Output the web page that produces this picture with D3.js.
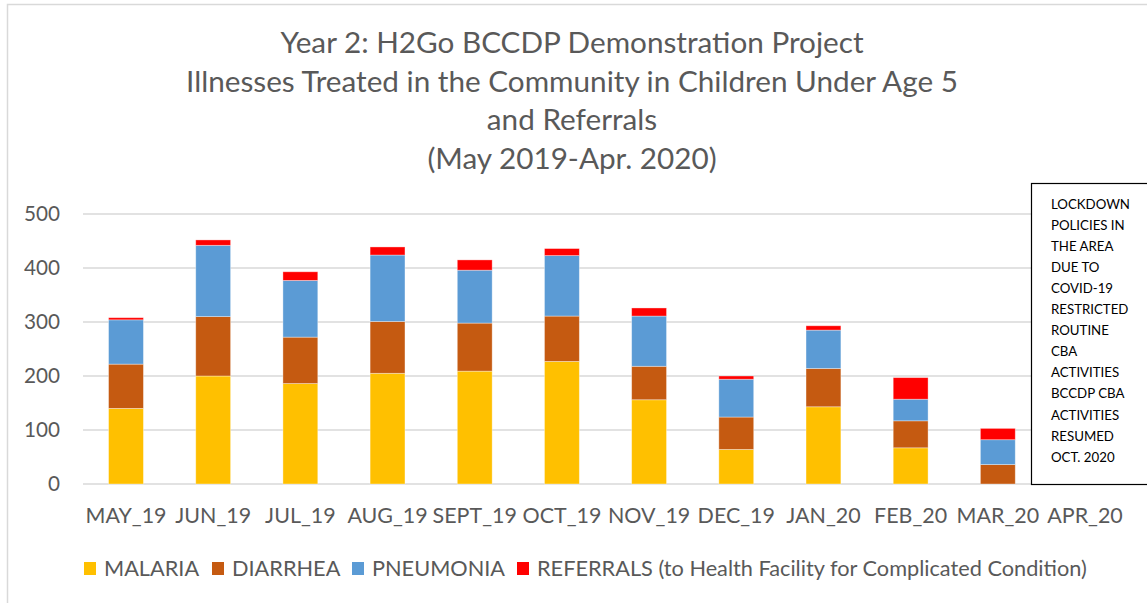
<!DOCTYPE html>
<html><head><meta charset="utf-8">
<script src="https://cdn.jsdelivr.net/npm/d3@7"></script>
<style>body{margin:0;background:#fff}svg{display:block}text{font-family:Lato,"Open Sans",sans-serif}</style>
</head><body>
<svg id="c" width="1147" height="603"></svg>
<script>
const months = ["MAY_19","JUN_19","JUL_19","AUG_19","SEPT_19","OCT_19","NOV_19","DEC_19","JAN_20","FEB_20","MAR_20","APR_20"];
const malaria   = [140,200,186,205,209,227,156,64,143,67,0,0];
const diarrhea  = [82,110,86,96,89,84,62,60,71,50,36,0];
const pneumonia = [82,132,105,123,98,112,93,70,71,40,46,0];
const referrals = [4,10,16,15,19,13,15,6,8,40,21,0];
const seriesNames = ["MALARIA","DIARRHEA","PNEUMONIA","REFERRALS (to Health Facility for Complicated Condition)"];
const seriesColors = ["#FFC000","#C55A11","#5B9BD5","#FF0000"];
const yTicks = [0,100,200,300,400,500];
const titleLines = ["Year 2: H2Go BCCDP Demonstration Project","Illnesses Treated in the Community in Children Under Age 5","and Referrals","(May 2019-Apr. 2020)"];
const noteLines = ["LOCKDOWN","POLICIES IN","THE AREA","DUE TO","COVID-19","RESTRICTED","ROUTINE","CBA","ACTIVITIES","BCCDP CBA","ACTIVITIES","RESUMED","OCT. 2020"];

const svg = d3.select("#c");
const grey = "#595959";

// fit helper: size font so text width matches target
function fit(sel, target){
  const fs = parseFloat(sel.attr("font-size"));
  const w = sel.node().getComputedTextLength();
  sel.attr("font-size", (fs*target/w).toFixed(2));
}

// outer chart border
svg.append("rect").attr("x",7.5).attr("y",4.5).attr("width",1160).attr("height",620)
  .attr("fill","#fff").attr("stroke","#d9d9d9").attr("stroke-width",1.5);

// title
const tFont = 27;
const tg = svg.append("g");
titleLines.forEach((t,i)=>{
  tg.append("text").attr("x",572).attr("y",53+i*38.7).attr("text-anchor","middle")
    .attr("font-size",tFont).attr("fill",grey).text(t);
});
{
  const n = tg.selectAll("text").nodes()[1];
  const ratio = 772 / n.getComputedTextLength();
  tg.selectAll("text").attr("font-size",(tFont*ratio).toFixed(2));
}

// scales
const x = d3.scaleBand().domain(months).range([82.4,1128.6]).paddingInner(0.6).paddingOuter(0.3);
const y = d3.scaleLinear().domain([0,500]).range([484,214]);

// gridlines
svg.append("g").selectAll("line").data(yTicks).join("line")
  .attr("x1",83).attr("x2",1128).attr("y1",d=>y(d)).attr("y2",d=>y(d))
  .attr("stroke","#d9d9d9").attr("stroke-width",1.5);

// y axis labels
const yAxis = svg.append("g").attr("transform","translate(60,0)")
  .call(d3.axisLeft(y).tickValues(yTicks).tickSize(0).tickPadding(0));
yAxis.select(".domain").remove();
yAxis.selectAll("text").attr("font-size",19).attr("fill",grey).attr("font-family","Lato,sans-serif");
{
  const t = yAxis.selectAll("text").filter(d=>d===500);
  const w = t.node().getComputedTextLength();
  yAxis.selectAll("text").attr("font-size",(19*36/w).toFixed(2));
}

// stacked bars
const rows = months.map((m,i)=>({month:m, s0:malaria[i], s1:diarrhea[i], s2:pneumonia[i], s3:referrals[i]}));
const stack = d3.stack().keys(["s0","s1","s2","s3"])(rows);
svg.append("g").selectAll("g").data(stack).join("g")
  .attr("fill",(d,i)=>seriesColors[i])
  .selectAll("rect").data(d=>d).join("rect")
  .attr("x",d=>x(d.data.month)).attr("width",x.bandwidth())
  .attr("y",d=>y(d[1])).attr("height",d=>Math.max(0,y(d[0])-y(d[1])))
  .attr("stroke","#fff").attr("stroke-opacity",0.45).attr("stroke-width",0.8);

// x axis labels
const xAxis = svg.append("g").attr("transform","translate(0,484)")
  .call(d3.axisBottom(x).tickSize(0).tickPadding(0));
xAxis.select(".domain").remove();
xAxis.selectAll("text").attr("font-size",19).attr("fill",grey).attr("font-family","Lato,sans-serif").attr("dy",0).attr("y",39);
{
  const t = xAxis.selectAll("text").filter(d=>d==="MAY_19");
  const w = t.node().getComputedTextLength();
  xAxis.selectAll("text").attr("font-size",(19*81/w).toFixed(2));
}

// note box
svg.append("rect").attr("x",1031.5).attr("y",183.5).attr("width",130).attr("height",301)
  .attr("fill","#fff").attr("stroke","#000").attr("stroke-width",1.2);
const ng = svg.append("g");
noteLines.forEach((t,i)=>{
  ng.append("text").attr("x",1051).attr("y",209+i*21.05).attr("font-size",13.5)
    .attr("fill","#000").text(t);
});
{
  const n = ng.selectAll("text").nodes()[0];
  const r = 79 / n.getComputedTextLength();
  ng.selectAll("text").attr("font-size",(13.5*r).toFixed(2));
}

// legend
const legX = [84,212,352,517];
const legTextW = [91,99,126,550];
const lg = svg.append("g");
seriesNames.forEach((n,i)=>{
  lg.append("rect").attr("x",legX[i]).attr("y",562).attr("width",12).attr("height",13).attr("fill",seriesColors[i]);
  const t = lg.append("text").attr("x",legX[i]+20).attr("y",576).attr("font-size",20).attr("fill",grey).text(n);
});
{
  const nodes = lg.selectAll("text").nodes();
  const r = 550 / nodes[3].getComputedTextLength();
  lg.selectAll("text").attr("font-size",(20*r).toFixed(2));
}
</script>
</body></html>
